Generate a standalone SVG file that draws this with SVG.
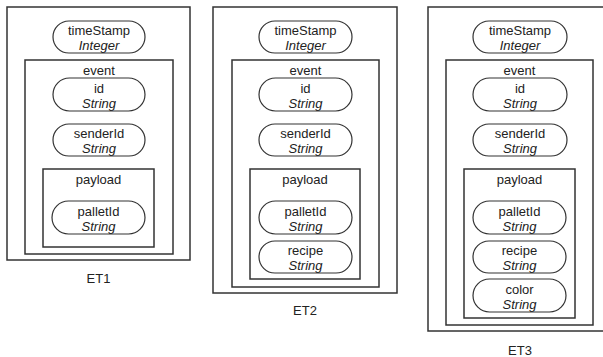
<svg xmlns="http://www.w3.org/2000/svg" width="603" height="357" viewBox="0 0 603 357">
<style>
.box{fill:none;stroke:#333;stroke-width:1.5}
.pill{fill:#fff;stroke:#333;stroke-width:1.2}
text{font-family:"Liberation Sans",Arial,sans-serif;font-size:13px;fill:#222;text-anchor:middle}
.t{font-style:italic}
</style>
<rect width="603" height="357" fill="#fff"/>
<g id="ET1">
<rect class="box" x="7" y="7" width="183" height="253"/>
<text x="98.5" y="283">ET1</text>
<g id="ET1-timeStamp"><rect class="pill" x="53" y="21" width="92" height="32" rx="16"/><text x="99" y="35">timeStamp</text><text class="t" x="99" y="49.5">Integer</text></g>
<g id="ET1-event">
<rect class="box" x="25" y="60" width="148" height="194"/>
<text x="99" y="75">event</text>
<g id="ET1-id"><rect class="pill" x="53" y="78" width="92" height="33" rx="16.5"/><text x="99" y="93">id</text><text class="t" x="99" y="107.5">String</text></g>
<g id="ET1-senderId"><rect class="pill" x="53" y="124" width="92" height="32" rx="16"/><text x="99" y="138">senderId</text><text class="t" x="99" y="152.5">String</text></g>
<g id="ET1-payload">
<rect class="box" x="43" y="169" width="111" height="78"/>
<text x="98.5" y="184">payload</text>
<g id="ET1-palletId"><rect class="pill" x="52" y="201" width="93" height="33" rx="16.5"/><text x="98.5" y="216">palletId</text><text class="t" x="98.5" y="230.5">String</text></g>
</g>
</g>
</g>
<g id="ET2">
<rect class="box" x="213" y="7" width="184" height="286"/>
<text x="305" y="315">ET2</text>
<g id="ET2-timeStamp"><rect class="pill" x="259" y="21" width="93" height="32" rx="16"/><text x="305.5" y="35">timeStamp</text><text class="t" x="305.5" y="49.5">Integer</text></g>
<g id="ET2-event">
<rect class="box" x="232" y="60" width="147" height="227"/>
<text x="305.5" y="75">event</text>
<g id="ET2-id"><rect class="pill" x="259" y="78" width="93" height="33" rx="16.5"/><text x="305.5" y="93">id</text><text class="t" x="305.5" y="107.5">String</text></g>
<g id="ET2-senderId"><rect class="pill" x="259" y="124" width="93" height="32" rx="16"/><text x="305.5" y="138">senderId</text><text class="t" x="305.5" y="152.5">String</text></g>
<g id="ET2-payload">
<rect class="box" x="250" y="169" width="110" height="110"/>
<text x="305" y="184">payload</text>
<g id="ET2-palletId"><rect class="pill" x="259" y="201" width="93" height="33" rx="16.5"/><text x="305.5" y="216">palletId</text><text class="t" x="305.5" y="230.5">String</text></g>
<g id="ET2-recipe"><rect class="pill" x="259" y="241" width="93" height="32" rx="16"/><text x="305.5" y="255">recipe</text><text class="t" x="305.5" y="269.5">String</text></g>
</g>
</g>
</g>
<g id="ET3">
<rect class="box" x="428" y="7" width="184" height="324"/>
<text x="520" y="355">ET3</text>
<g id="ET3-timeStamp"><rect class="pill" x="473" y="21" width="94" height="32" rx="16"/><text x="520" y="35">timeStamp</text><text class="t" x="520" y="49.5">Integer</text></g>
<g id="ET3-event">
<rect class="box" x="446" y="60" width="147" height="265"/>
<text x="519.5" y="75">event</text>
<g id="ET3-id"><rect class="pill" x="473" y="78" width="94" height="33" rx="16.5"/><text x="520" y="93">id</text><text class="t" x="520" y="107.5">String</text></g>
<g id="ET3-senderId"><rect class="pill" x="473" y="124" width="94" height="32" rx="16"/><text x="520" y="138">senderId</text><text class="t" x="520" y="152.5">String</text></g>
<g id="ET3-payload">
<rect class="box" x="464" y="169" width="111" height="149"/>
<text x="519.5" y="184">payload</text>
<g id="ET3-palletId"><rect class="pill" x="473" y="201" width="93" height="33" rx="16.5"/><text x="519.5" y="216">palletId</text><text class="t" x="519.5" y="230.5">String</text></g>
<g id="ET3-recipe"><rect class="pill" x="473" y="241" width="93" height="32" rx="16"/><text x="519.5" y="255">recipe</text><text class="t" x="519.5" y="269.5">String</text></g>
<g id="ET3-color"><rect class="pill" x="473" y="279" width="93" height="33" rx="16.5"/><text x="519.5" y="294">color</text><text class="t" x="519.5" y="308.5">String</text></g>
</g>
</g>
</g>
<g id="connectors"/>
</svg>
